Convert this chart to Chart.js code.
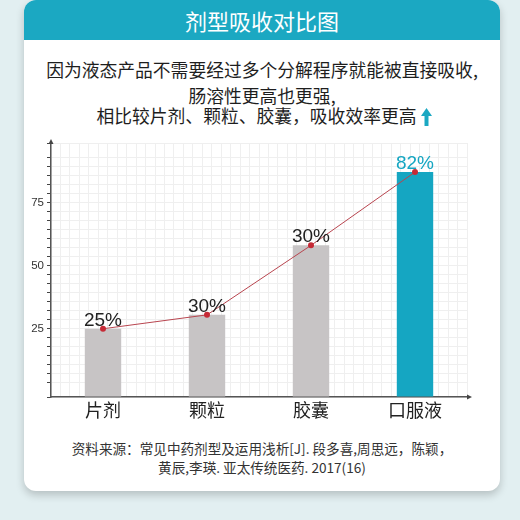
<!DOCTYPE html>
<html>
<head>
<meta charset="utf-8">
<script src="https://cdn.jsdelivr.net/npm/chart.js@4/dist/chart.umd.min.js"></script>
<style>
  html, body { margin: 0; padding: 0; }
  body { width: 520px; height: 520px; background: #e2eff1; position: relative; overflow: hidden;
         font-family: "Noto Sans CJK SC", "Noto Sans", sans-serif; }
  .card { position: absolute; left: 24px; top: 0; width: 476px; height: 491px; background: #fff;
          border-radius: 12px; box-shadow: 0 4px 8px rgba(0,0,0,0.2); overflow: hidden; }
  .head { height: 40px; background: #1ba8c2; color: #fff; font-size: 22px; text-align: center; line-height: 40px; }
  .line { position: absolute; left: 0; width: 476px; text-align: center; color: #1e1e1e; font-size: 17.8px; line-height: 20px; }
  .src { position: absolute; left: 0; width: 476px; text-align: center; color: #333; font-size: 13.6px; line-height: 18px; }
  .chart { position: absolute; left: 0; top: 130px; }
  .up { display: inline-block; vertical-align: -3px; margin-left: 4px; }
</style>
</head>
<body>
<div class="card">
  <div class="head">剂型吸收对比图</div>
  <div class="line" style="top:59px">因为液态产品不需要经过多个分解程序就能被直接吸收,</div>
  <div class="line" style="top:85px">肠溶性更高也更强,</div>
  <div class="line" style="top:105px">&nbsp;相比较片剂、颗粒、胶囊，吸收效率更高<svg class="up" width="11" height="18" viewBox="0 0 11 18"><polygon points="5.5,0 11,8 7.5,8 7.5,18 3.5,18 3.5,8 0,8" fill="#1ba8c2"/></svg></div>
  <canvas id="absorb" class="chart" width="476" height="297"></canvas>
  <div class="src" style="top:439px">资料来源：常见中药剂型及运用浅析[J]. 段多喜,周思远，陈颖，</div>
  <div class="src" style="top:458px">黄辰,李瑛. 亚太传统医药. 2017(16)</div>
</div>
<script>
// data
const forms = ['片剂', '颗粒', '胶囊', '口服液'];
const barHeights = [25, 30.5, 58, 87];
const valueLabels = ['25%', '30%', '30%', '82%'];
const yTicksShown = [25, 50, 75];

const gray = '#c7c4c5';
const teal = '#15a6c2';
const barColors = forms.map((f, i) => (i === forms.length - 1 ? teal : gray));
const labelColors = forms.map((f, i) => (i === forms.length - 1 ? teal : '#222'));

const yMin = -2;
const yMax = 98.5;
const yStep = 25 / 7;

// percentage text above the red points
const valueText = {
  id: 'valueText',
  afterDatasetsDraw(chart) {
    const ctx = chart.ctx;
    const meta = chart.getDatasetMeta(1);
    ctx.save();
    ctx.font = '19px "Liberation Sans", Arial, sans-serif';
    ctx.textAlign = 'center';
    ctx.textBaseline = 'alphabetic';
    meta.data.forEach((pt, i) => {
      ctx.fillStyle = labelColors[i];
      ctx.fillText(valueLabels[i], pt.x, pt.y - 3);
    });
    ctx.restore();
  }
};

// little arrow heads at the ends of both axes
const axisArrows = {
  id: 'axisArrows',
  afterDraw(chart) {
    const { ctx, chartArea } = chart;
    ctx.save();
    ctx.fillStyle = '#444';
    ctx.beginPath();
    ctx.moveTo(chartArea.left, chartArea.top - 4);
    ctx.lineTo(chartArea.left - 2.5, chartArea.top + 1);
    ctx.lineTo(chartArea.left + 2.5, chartArea.top + 1);
    ctx.fill();
    ctx.beginPath();
    ctx.moveTo(chartArea.right + 5, chartArea.bottom);
    ctx.lineTo(chartArea.right, chartArea.bottom - 2.5);
    ctx.lineTo(chartArea.right, chartArea.bottom + 2.5);
    ctx.fill();
    ctx.restore();
  }
};

new Chart(document.getElementById('absorb'), {
  data: {
    labels: forms,
    datasets: [
      {
        type: 'bar',
        data: barHeights,
        backgroundColor: barColors,
        base: yMin,
        barPercentage: 0.35,
        categoryPercentage: 1,
        order: 1,
      },
      {
        type: 'line',
        data: barHeights,
        borderColor: '#b8454f',
        borderWidth: 1,
        pointRadius: 3,
        pointBackgroundColor: '#c62a36',
        pointBorderWidth: 0,
        tension: 0,
        order: 0,
      },
    ],
  },
  options: {
    responsive: false,
    animation: false,
    layout: { padding: { left: 0, right: 33, top: 13, bottom: 0 } },
    plugins: { legend: { display: false }, tooltip: { enabled: false } },
    scales: {
      x: {
        type: 'category',
        afterFit: (s) => { s.height = 30; },
        grid: { display: true, drawOnChartArea: false, drawTicks: false },
        border: { color: '#555', width: 1.5 },
        ticks: { color: '#222', padding: 2, font: { family: '"Noto Sans CJK SC"', size: 18 } },
      },
      x2: {
        type: 'linear',
        position: 'bottom',
        min: 0,
        max: 44,
        afterFit: (s) => { s.height = 0; },
        ticks: { display: false, stepSize: 1 },
        grid: { color: '#efefef', lineWidth: 1, drawTicks: false },
        border: { display: false },
      },
      y: {
        min: yMin,
        max: yMax,
        afterFit: (s) => { s.width = 27; },
        border: { color: '#555', width: 1.5 },
        grid: { color: '#efefef', lineWidth: 1, tickColor: '#444', tickLength: 4 },
        ticks: {
          stepSize: yStep,
          autoSkip: false,
          padding: 3,
          color: '#333',
          font: { family: '"Liberation Sans", Arial', size: 11.5 },
          callback: (v) => {
            const hit = yTicksShown.find((t) => Math.abs(t - v) < 1e-6);
            return hit !== undefined ? String(hit) : '';
          },
        },
      },
    },
  },
  plugins: [valueText, axisArrows],
});
</script>
</body>
</html>
